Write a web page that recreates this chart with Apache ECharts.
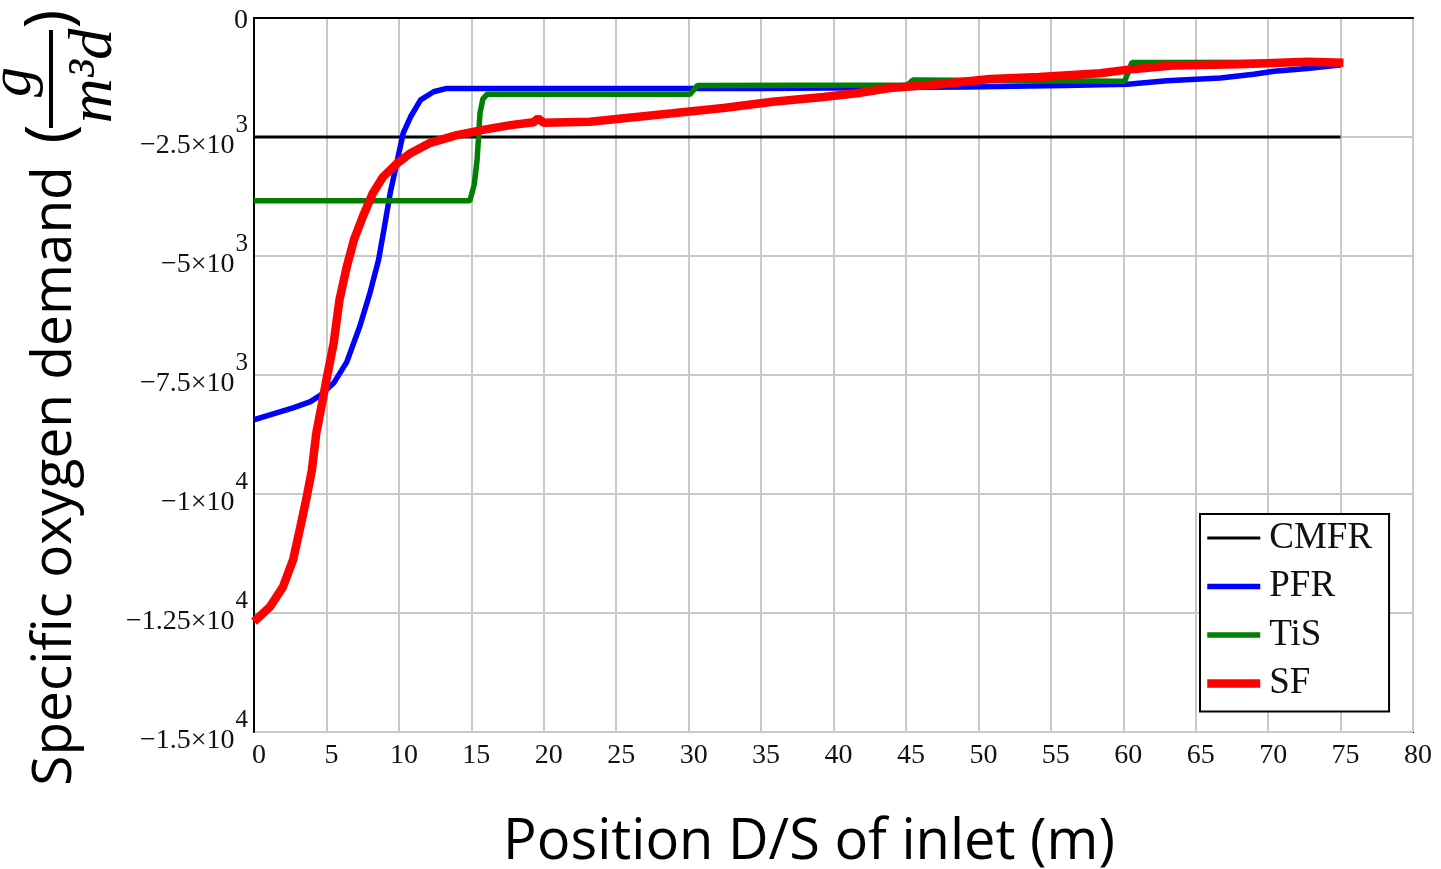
<!DOCTYPE html>
<html>
<head>
<meta charset="utf-8">
<title>Specific oxygen demand</title>
<script src="https://cdn.jsdelivr.net/npm/echarts@6/dist/echarts.min.js"></script>
<style>
  html, body { margin: 0; padding: 0; background: #fff; }
  #chart { width: 1441px; height: 869px; }
</style>
</head>
<body>
<div id="chart"></div>
<script>
  // values (x in m, y in g/m3d)
  const seriesNames = ["CMFR", "PFR", "TiS", "SF"];

  const cmfrX = [0, 75];
  const cmfrY = [-2500, -2500];

  const pfrX = [0, 1.1, 2.7, 3.9, 4.6, 5.5, 6.4, 7.3, 8.0, 8.6, 9.0, 9.4, 9.9, 10.3, 10.8, 11.5, 12.4, 13.3, 35, 49, 56, 60.3, 63, 66.7, 69, 70.4, 72.7, 74.3, 75];
  const pfrY = [-8440, -8340, -8190, -8060, -7920, -7670, -7230, -6480, -5780, -5080, -4390, -3680, -2980, -2420, -2080, -1720, -1550, -1480, -1480, -1450, -1420, -1390, -1320, -1260, -1180, -1120, -1060, -1010, -990];

  const tisX = [0, 14.9, 15.2, 15.4, 15.6, 15.8, 16.1, 30.1, 30.6, 45.1, 45.5, 60.1, 60.6, 75];
  const tisY = [-3840, -3840, -3500, -2980, -2000, -1700, -1600, -1600, -1420, -1410, -1300, -1330, -935, -930];

  const sfX = [0, 1.1, 2.0, 2.7, 3.2, 3.6, 4.0, 4.3, 4.7, 5.0, 5.5, 5.9, 6.4, 6.9, 7.5, 8.2, 8.9, 9.9, 10.8, 12.1, 14.0, 15.8, 17.7, 19.3, 19.6, 20.0, 23.2, 25.7, 28.9, 32.4, 35.8, 39.3, 41.6, 43.9, 47.3, 50.8, 54.2, 58.4, 60.2, 63.4, 68.0, 72.7, 75.2];
  const sfY = [-12680, -12370, -11950, -11380, -10690, -10120, -9490, -8720, -8090, -7600, -6830, -5920, -5230, -4660, -4180, -3680, -3340, -3050, -2840, -2630, -2460, -2350, -2250, -2190, -2110, -2200, -2180, -2100, -2000, -1890, -1760, -1660, -1580, -1470, -1390, -1280, -1240, -1160, -1090, -1000, -970, -920, -940];

  // y tick labels, mantissa and exponent kept apart for the superscript
  const yTickValues = [0, -2500, -5000, -7500, -10000, -12500, -15000];
  const yTickMantissa = ["0", "−2.5×10", "−5×10", "−7.5×10", "−1×10", "−1.25×10", "−1.5×10"];
  const yTickExponent = ["", "3", "3", "3", "4", "4", "4"];

  const chart = echarts.init(document.getElementById("chart"));

  const zip = (xs, ys) => xs.map((x, i) => [x, ys[i]]);
  const serif = "'Liberation Serif', 'Times New Roman', serif";
  const sans = "'Open Sans', 'Noto Sans', sans-serif";

  const lineSeries = (name, xs, ys, color, width) => ({
    name: name,
    type: "line",
    data: zip(xs, ys),
    symbol: "none",
    color: color,
    lineStyle: { color: color, width: width },
    animation: false,
  });

  // rotated title pieces on the left
  const vText = (text, x, y, font, size, italic) => ({
    type: "text",
    x: x,
    y: y,
    rotation: Math.PI / 2,
    style: {
      text: text,
      fontFamily: font,
      fontStyle: italic ? "italic" : "normal",
      fontSize: size,
      fill: "#000",
      align: "center",
      verticalAlign: "middle",
      textAlign: "center",
      textVerticalAlign: "middle",
    },
  });

  const option = {
    backgroundColor: "#fff",
    grid: {
      left: 254,
      top: 18,
      right: 28,
      bottom: 137,
      show: true,
      borderColor: "#000",
      borderWidth: 2,
    },
    xAxis: {
      type: "value",
      min: 0,
      max: 80,
      interval: 5,
      axisLine: { show: true, lineStyle: { color: "#000", width: 2 } },
      axisTick: { show: false },
      splitLine: { show: true, lineStyle: { color: "#c8c8c8", width: 2 } },
      axisLabel: {
        color: "#111",
        fontFamily: serif,
        fontSize: 28,
        margin: 10,
        padding: [0, 0, 0, 10],
      },
    },
    yAxis: {
      type: "value",
      min: -15000,
      max: 0,
      interval: 2500,
      axisLine: { show: true, lineStyle: { color: "#000", width: 2 } },
      axisTick: { show: false },
      splitLine: { show: true, lineStyle: { color: "#c8c8c8", width: 2 } },
      axisLabel: {
        margin: 6,
        formatter: (v) => {
          const i = yTickValues.indexOf(v);
          if (i < 0) return "";
          if (!yTickExponent[i]) return "{z|" + yTickMantissa[i] + "}";
          return "{m|" + yTickMantissa[i] + "}{s|" + yTickExponent[i] + "}";
        },
        rich: {
          z: { fontFamily: serif, fontSize: 28, color: "#111", lineHeight: 28, padding: [6, 0, 0, 0] },
          m: { fontFamily: serif, fontSize: 28, color: "#111", lineHeight: 28, padding: [18, 0, 0, 0] },
          s: { fontFamily: serif, fontSize: 25, color: "#111", lineHeight: 24, padding: [0, 0, 23, 1] },
        },
      },
    },
    legend: {
      orient: "vertical",
      left: 1200,
      top: 514,
      padding: [5, 17, 9, 3],
      itemGap: 10.5,
      itemWidth: 53,
      itemHeight: 14,
      borderColor: "#000",
      borderWidth: 2,
      backgroundColor: "#fff",
      itemStyle: { opacity: 0 },
      textStyle: {
        fontFamily: serif,
        fontSize: 37,
        lineHeight: 38,
        color: "#111",
        padding: [0, 0, 0, 4],
      },
      data: [
        { name: seriesNames[0], lineStyle: { width: 3 } },
        { name: seriesNames[1], lineStyle: { width: 5.5 } },
        { name: seriesNames[2], lineStyle: { width: 5.5 } },
        { name: seriesNames[3], lineStyle: { width: 8.5 } },
      ],
    },
    graphic: [
      {
        type: "text",
        x: 809,
        y: 843,
        style: {
          text: "Position D/S of inlet (m)",
          fontFamily: sans,
          fontSize: 56,
          fill: "#000",
          align: "center",
          verticalAlign: "middle",
          textAlign: "center",
          textVerticalAlign: "middle",
        },
      },
      vText("Specific oxygen demand", 55, 476, sans, 55, false),
      vText("(", 53, 134, sans, 64, false),
      vText(")", 52, 19, sans, 64, false),
      vText("g", 14, 82, serif, 60, true),
      {
        type: "rect",
        shape: { x: 49, y: 30, width: 4, height: 98 },
        style: { fill: "#000" },
      },
      vText("m³d", 95, 76, serif, 62, true),
    ],
    series: [
      lineSeries(seriesNames[0], cmfrX, cmfrY, "#000000", 3),
      lineSeries(seriesNames[1], pfrX, pfrY, "#0000ff", 5.5),
      lineSeries(seriesNames[2], tisX, tisY, "#008000", 5.5),
      lineSeries(seriesNames[3], sfX, sfY, "#ff0000", 8.5),
    ],
  };

  option && chart.setOption(option);

  window.addEventListener("resize", () => {
    chart.resize();
  });
</script>
</body>
</html>
